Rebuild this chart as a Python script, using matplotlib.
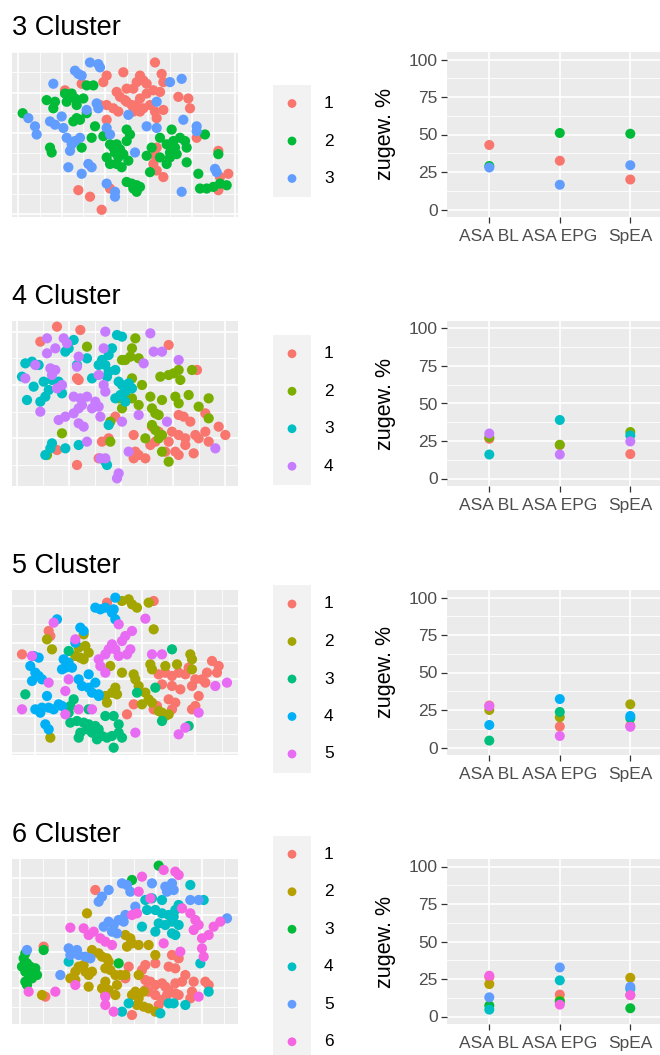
import numpy as np
import matplotlib.pyplot as plt

plt.rcParams['font.family'] = ['Liberation Sans', 'DejaVu Sans']

# ---- data -------------------------------------------------------------
categories = ['ASA BL', 'ASA EPG', 'SpEA']
n_clusters = [3, 4, 5, 6]

# ggplot hue palettes
hue = {
    3: ['#F8766D', '#00BA38', '#619CFF'],
    4: ['#F8766D', '#7CAE00', '#00BFC4', '#C77CFF'],
    5: ['#F8766D', '#A3A500', '#00BF7D', '#00B0F6', '#E76BF3'],
    6: ['#F8766D', '#B79F00', '#00BA38', '#00BFC4', '#619CFF', '#F564E3'],
}

# assigned share (%) per cluster for ASA BL, ASA EPG, SpEA
pct3 = [[43, 32.5, 20], [29, 51, 50.5], [28, 16.5, 29.5]]
pct4 = [[26.5, 22.3, 16.3], [27.5, 22.5, 31], [16, 39, 28.7], [30, 16, 24.7]]
pct5 = [[28, 14, 14.5], [25, 20.2, 28.8], [4.6, 23.7, 19.5],
        [15, 32.3, 21], [27.5, 7.7, 13.8]]
pct6 = [[26.3, 14.6, 14.2], [21.6, 10.8, 25.8], [7.3, 9.9, 5.5],
        [4.6, 24.1, 18.5], [12.8, 32.7, 19.8], [27.2, 7.9, 14.3]]

# 2-D embedding coordinates per cluster (dim2 points down)
emb3 = [
    [(465,180),(370,210),(320,220),(310,240),(245,245),(420,220),(430,235),(440,245),(410,240),
     (400,260),(350,270),(360,285),(380,260),(375,295),(485,215),(490,240),(480,270),(460,265),
     (440,275),(420,290),(410,310),(430,320),(450,310),(465,330),(490,325),(470,350),(535,285),
     (565,290),(570,320),(340,320),(355,330),(320,310),(300,310),(320,355),(380,300),(395,310),
     (400,330),(420,330),(195,265),(470,440),(465,465),(460,490),(470,510),(490,530),(590,410),
     (655,450),(685,520),(660,530),(655,570),(235,570),(270,590),(305,630),(330,565)],
    [(68,335),(140,295),(160,320),(165,300),(195,275),(215,275),(225,290),(230,310),(250,290),
     (200,300),(260,250),(280,250),(230,350),(240,355),(260,335),(220,360),(285,375),(310,405),
     (275,410),(150,440),(155,455),(245,440),(330,430),(340,440),(350,430),(360,445),(370,460),
     (320,470),(330,490),(350,490),(365,500),(380,420),(390,400),(380,385),(355,470),(345,455),
     (385,480),(380,545),(395,550),(410,555),(420,560),(400,565),(410,575),(440,465),(455,440),
     (450,515),(480,410),(500,430),(515,385),(520,420),(525,440),(510,470),(500,490),(530,460),
     (540,410),(560,440),(560,485),(555,420),(480,470),(595,520),(615,400),(600,565),(620,565),
     (640,560),(660,550),(680,555),(655,460),(510,455)],
    [(270,180),(295,185),(300,195),(225,205),(235,215),(245,220),(160,245),(85,350),(105,375),
     (110,400),(150,360),(165,370),(185,345),(190,380),(200,410),(215,430),(225,420),(240,410),
     (210,450),(205,500),(245,520),(265,490),(275,500),(260,325),(290,305),(295,320),(320,380),
     (330,400),(385,340),(320,550),(345,575),(345,590),(405,455),(470,300),(510,240),(545,230),
     (440,375),(470,380),(550,355),(590,375),(590,390),(545,575),(645,505),(650,515)],
]
emb4 = [
    [(175,85),(245,95),(125,130),(510,140),(235,240),(240,245),(595,215),(540,350),(555,355),
     (575,370),(620,345),(660,385),(680,410),(460,385),(480,400),(520,400),(540,410),(560,420),
     (590,410),(600,420),(620,400),(630,430),(560,440),(455,440),(470,430),(510,430),(500,460),
     (530,460),(540,470),(585,465),(405,410),(410,460),(420,470),(440,480),(405,480),(310,430),
     (330,420),(300,480),(350,355),(175,455),(235,500)],
    [(410,120),(400,150),(395,175),(370,185),(380,185),(420,180),(265,145),(485,235),(510,230),
     (525,225),(540,215),(545,245),(580,215),(400,240),(430,260),(455,295),(490,305),(460,330),
     (470,345),(480,350),(370,330),(360,300),(400,300),(420,320),(380,290),(530,295),(540,315),
     (570,290),(600,325),(630,300),(630,360),(460,380),(470,395),(490,410),(480,420),(440,420),
     (335,370),(335,430),(190,405),(490,460),(510,490),(145,470)],
    [(225,125),(200,160),(210,150),(355,110),(370,115),(340,150),(330,170),(310,185),(320,200),
     (300,200),(330,220),(325,235),(350,215),(265,180),(235,200),(80,195),(100,190),(120,200),
     (70,235),(105,265),(135,250),(160,245),(180,250),(190,285),(150,275),(140,295),(125,310),
     (85,305),(280,240),(360,250),(370,260),(390,255),(400,270),(380,280),(365,290),(350,300),
     (380,310),(330,380),(160,435),(155,450),(140,470),(200,450),(240,440),(320,490),(325,500)],
    [(145,120),(195,120),(205,135),(170,150),(145,165),(320,100),(315,150),(455,105),(465,160),
     (490,160),(540,185),(435,195),(110,200),(155,210),(170,215),(160,230),(175,270),(190,260),
     (80,240),(240,175),(235,205),(225,295),(245,300),(265,295),(290,310),(300,325),(280,330),
     (250,320),(240,330),(300,230),(315,260),(320,280),(125,340),(180,365),(200,355),(225,345),
     (240,375),(255,385),(305,355),(370,370),(420,350),(505,370),(265,430),(390,460),(320,480),
     (305,480),(360,525),(355,540),(650,450)],
]
emb5 = [
    [(325,100),(465,95),(150,185),(155,200),(70,255),(640,275),(660,290),(655,310),(625,310),
     (480,315),(500,310),(520,320),(540,310),(560,315),(570,295),(590,330),(610,330),(490,345),
     (520,350),(545,360),(580,350),(600,380),(620,340),(510,390),(530,400),(520,420),(590,410),
     (580,420),(475,410),(465,420),(405,405),(385,435)],
    [(370,95),(390,90),(400,105),(415,115),(450,100),(465,180),(255,195),(145,210),(160,240),
     (240,235),(260,230),(270,250),(245,265),(255,270),(230,260),(335,290),(370,310),(405,315),
     (410,330),(420,350),(350,355),(340,370),(320,380),(325,400),(355,375),(455,285),(460,300),
     (500,290),(535,285),(575,255),(580,270),(580,300),(440,370),(450,390),(460,400),(430,405),
     (480,425),(490,430),(510,435),(500,440),(155,505)],
    [(520,240),(210,245),(470,355),(415,370),(80,375),(225,390),(215,410),(210,430),(270,420),
     (215,460),(235,455),(255,460),(270,465),(290,470),(265,480),(245,490),(280,490),(300,480),
     (310,500),(325,505),(340,500),(360,490),(370,505),(345,535),(240,505),(295,510),(320,440),
     (345,440),(360,465),(490,455),(570,470)],
    [(350,85),(290,115),(305,120),(320,115),(345,120),(350,150),(175,150),(245,175),(255,185),
     (230,220),(105,260),(120,265),(95,290),(110,310),(100,335),(120,320),(130,330),(195,270),
     (210,280),(200,295),(190,300),(220,295),(240,330),(250,350),(270,355),(280,370),(300,380),
     (290,340),(270,315),(300,375),(145,380),(130,415),(110,420),(125,430),(150,415),(165,420),
     (180,405),(190,410),(140,465),(150,480),(340,130)],
    [(440,148),(165,160),(360,165),(230,210),(400,185),(380,200),(370,215),(340,225),(330,240),
     (320,255),(300,270),(305,290),(320,310),(350,240),(360,260),(385,255),(395,240),(460,255),
     (490,255),(100,260),(150,340),(210,330),(200,365),(240,420),(280,420),(70,420),(200,435),
     (650,350),(685,340),(600,430),(410,490),(540,495),(560,475)],
]
emb6 = [
    [(290,155),(135,325),(440,380),(470,375),(430,395),(520,350),(540,360),(510,385),(530,390),
     (440,425),(455,430),(470,440),(490,435),(500,445),(510,455),(530,435),(550,430),(560,410),
     (530,465),(450,460),(470,470),(490,485),(480,500),(505,470),(540,470),(575,480),(585,430),
     (620,430),(630,440),(400,530),(140,475),(390,385),(380,420),(440,455),(580,460)],
    [(265,225),(380,290),(395,300),(400,315),(420,320),(450,320),(385,325),(470,350),(280,335),
     (300,345),(310,355),(325,360),(330,370),(240,385),(255,380),(260,400),(270,410),(280,400),
     (230,400),(215,420),(230,425),(270,445),(320,390),(335,395),(350,410),(365,410),(380,410),
     (320,430),(310,450),(330,455),(355,440),(350,470),(320,470),(420,410),(410,460),(400,470),
     (420,480),(435,460),(415,500),(435,505),(450,510),(470,520),(130,470)],
    [(480,82),(400,125),(80,345),(75,360),(70,385),(85,375),(95,385),(80,400),(90,410),(80,430),
     (110,390),(115,410),(100,420),(85,440),(135,335),(360,375)],
    [(440,185),(460,180),(490,185),(445,215),(470,215),(490,225),(510,230),(530,215),(525,235),
     (540,200),(480,255),(500,260),(520,250),(540,260),(470,280),(520,285),(530,290),(575,140),
     (615,185),(430,265),(210,370),(605,375),(630,460),(390,495),(370,520),(510,495),(525,495),
     (560,500),(485,525)],
    [(370,135),(385,140),(395,160),(460,135),(500,145),(520,135),(505,160),(525,155),(330,155),
     (310,175),(300,190),(575,185),(600,185),(410,205),(330,250),(315,265),(345,260),(360,245),
     (375,250),(355,285),(340,280),(380,230),(210,330),(215,350),(240,350),(260,355),(275,360),
     (235,335),(185,410),(85,335),(685,240)],
    [(430,115),(495,95),(530,100),(540,110),(420,160),(455,180),(550,210),(575,225),(590,245),
     (600,260),(585,275),(610,300),(630,290),(645,265),(665,250),(400,230),(415,225),(215,268),
     (255,270),(270,290),(285,280),(305,300),(320,310),(340,320),(495,315),(610,330),(615,355),
     (545,340),(230,440),(90,460),(170,460),(320,475),(320,500),(345,520),(600,475)],
]

embeddings = [emb3, emb4, emb5, emb6]
percents = [pct3, pct4, pct5, pct6]

# embedding view window (x0, y0) and grid (x start, x step, y start, y step)
emb_window = [(36, 157), (40, 68), (40, 62), (40, 62)]
emb_grid = [(55, 65, 148, 62), (55, 78, 100, 80), (110, 80, 110, 55), (65, 68, 120, 55)]
EMB_W, EMB_H = 678, 495

# ---- figure -----------------------------------------------------------
W, H = 660, 1055
fig = plt.figure(figsize=(W / 100, H / 100), dpi=100)


def box(x0, y0, w, h):
    return [x0 / W, 1 - (y0 + h) / H, w / W, h / H]


panel_bg = '#EBEBEB'
row_top = [52, 321, 590, 859]
PANEL_H = 165

for r, k in enumerate(n_clusters):
    top = row_top[r]
    cols = hue[k]

    # title
    fig.text(12 / W, 1 - (top - 17) / H, f'{k} Cluster', fontsize=19.5,
             ha='left', va='baseline')

    # embedding scatter
    ax = fig.add_axes(box(12, top, 226, PANEL_H))
    ax.set_facecolor(panel_bg)
    for c, pts in enumerate(embeddings[r]):
        xs = [p[0] for p in pts]
        ys = [p[1] for p in pts]
        ax.scatter(xs, ys, s=54, color=cols[c], edgecolors='none', zorder=3)
    x0, y0 = emb_window[r]
    ax.set_xlim(x0, x0 + EMB_W)
    ax.set_ylim(y0 + EMB_H, y0)
    gx, sx, gy, sy = emb_grid[r]
    xt = np.arange(gx, x0 + EMB_W, sx)
    yt = np.arange(gy, y0 + EMB_H, sy)
    ax.set_xticks(xt[::2])
    ax.set_xticks(xt[1::2], minor=True)
    ax.set_yticks(yt[::2])
    ax.set_yticks(yt[1::2], minor=True)
    ax.tick_params(which='both', length=0, labelbottom=False, labelleft=False)
    ax.grid(which='major', color='white', lw=1.2)
    ax.grid(which='minor', color='white', lw=0.6)
    ax.set_axisbelow(True)
    for sp in ax.spines.values():
        sp.set_visible(False)

    # legend column
    cy = top + PANEL_H / 2 + 6.5
    lh = k * 37.5
    lax = fig.add_axes(box(273, cy - lh / 2, 38, lh))
    lax.set_facecolor('#F2F2F2')
    ids = np.arange(1, k + 1)
    lax.scatter(np.full(k, 0.5), ids, s=40, c=cols, edgecolors='none')
    for i in ids:
        lax.text(1.34, i, str(i), fontsize=12.5, ha='left', va='center',
                 clip_on=False)
    lax.set_xlim(0, 1)
    lax.set_ylim(k + 0.5, 0.5)
    lax.set_xticks([])
    lax.set_yticks([])
    for sp in lax.spines.values():
        sp.set_visible(False)

    # share per test
    dax = fig.add_axes(box(447, top, 213, PANEL_H))
    dax.set_facecolor(panel_bg)
    xpos = np.arange(1, len(categories) + 1)
    for c, vals in enumerate(percents[r]):
        dax.scatter(xpos, vals, s=52, color=cols[c], edgecolors='none',
                    zorder=3, clip_on=False)
    dax.set_xlim(0.4, 0.4 + 213 / 70.5)
    dax.set_ylim(-5, 105)
    dax.set_xticks(xpos)
    dax.set_xticklabels(categories)
    dax.set_yticks([0, 25, 50, 75, 100])
    dax.set_yticks([12.5, 37.5, 62.5, 87.5], minor=True)
    dax.tick_params(which='major', color='#333333', length=4, width=0.9,
                    labelcolor='#4D4D4D', labelsize=12.5)
    dax.tick_params(axis='x', which='major', pad=4.5)
    dax.tick_params(axis='y', which='major', pad=2.5)
    dax.tick_params(which='minor', length=0)
    dax.grid(which='major', color='white', lw=1.2)
    dax.grid(which='minor', axis='y', color='white', lw=0.6)
    dax.set_axisbelow(True)
    for sp in dax.spines.values():
        sp.set_visible(False)
    dax.set_ylabel('zugew. %', fontsize=15.5, va='center')
    dax.yaxis.set_label_coords((385 - 447) / 213, 0.5)

fig.savefig('out.png', dpi=100)
